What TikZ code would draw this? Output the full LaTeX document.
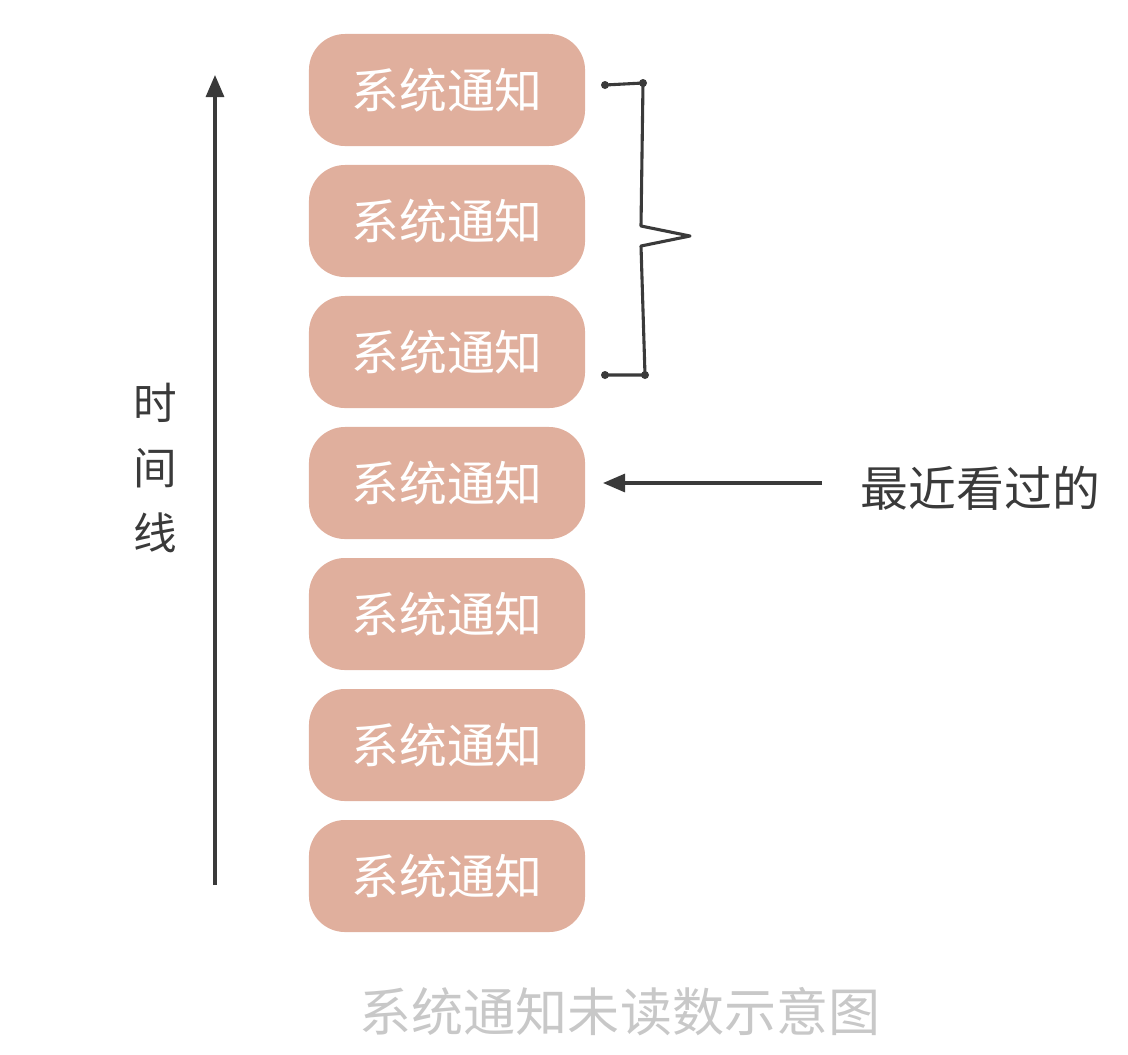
\documentclass[tikz,border=0pt]{standalone}
\usepackage{fontspec}
\newfontfamily\cjk{Noto Sans CJK SC}
\usetikzlibrary{arrows.meta}
\definecolor{boxfill}{HTML}{E0AF9D}
\definecolor{inkgray}{HTML}{3A3A3A}
\definecolor{capgray}{HTML}{C8C8C8}
\tikzset{
  note/.style={rounded corners=0.9cm, fill=boxfill, minimum width=6.9cm, minimum height=2.8cm,
    text=white, font=\cjk\fontsize{34}{40}\selectfont},
  ink/.style={draw=inkgray, line width=2.2pt},
  tip/.style={-{Triangle[length=0.55cm,width=0.45cm]}}
}
\begin{document}
\begin{tikzpicture}[x=0.025cm,y=-0.025cm]
\useasboundingbox (0,0) rectangle (1128,1054);

% notification boxes
\foreach \i/\y in {1/90,2/221,3/352,4/483,5/614,6/745,7/876}
  \node[note] (n\i) at (447,\y) {系统通知};

% time line
\coordinate (t0) at (215,885);
\coordinate (t1) at (215,75);
\draw[ink, tip] (t0) -- (t1);
\node[font=\cjk\fontsize{31}{46}\selectfont, text=inkgray, align=center] (tl) at (155,468) {时\\间\\线};

% brace
\coordinate (b1) at (605,85);
\coordinate (b2) at (605,375);
\draw[ink, line join=round] (b1) -- (643,83) -- (641,226) -- (690,236) -- (641,246) -- (645,375) -- (b2);
\fill[inkgray] (b1) circle (4) (643,83) circle (4) (b2) circle (4) (645,375) circle (4);

% recently viewed
\node[font=\cjk\fontsize{34}{40}\selectfont, text=inkgray, anchor=west] (rv) at (856,488) {最近看过的};
\coordinate (r0) at (822,483);
\coordinate (r1) at (603,483);
\draw[ink, tip] (r0) -- (r1);

% caption
\node[font=\cjk\fontsize{37}{44}\selectfont, text=capgray] (cap) at (620,1012) {系统通知未读数示意图};
\end{tikzpicture}
\end{document}
